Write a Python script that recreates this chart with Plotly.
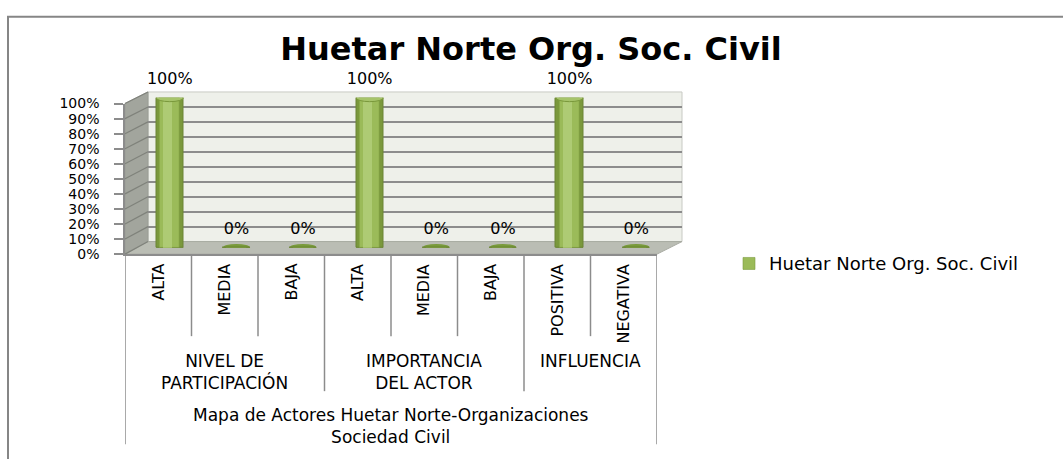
import plotly.graph_objects as go

# ---------------- data ----------------
categories = ["ALTA", "MEDIA", "BAJA", "ALTA", "MEDIA", "BAJA", "POSITIVA", "NEGATIVA"]
groups = ["NIVEL DE<br>PARTICIPACIÓN", "IMPORTANCIA<br>DEL ACTOR", "INFLUENCIA"]
group_sizes = [3, 3, 2]
outer_label = "Mapa de Actores Huetar Norte-Organizaciones<br>Sociedad Civil"
values = [1.0, 0.0, 0.0, 1.0, 0.0, 0.0, 1.0, 0.0]
series_name = "Huetar Norte Org. Soc. Civil"
chart_title = "Huetar Norte Org. Soc. Civil"
y_ticks = [0.0, 0.1, 0.2, 0.3, 0.4, 0.5, 0.6, 0.7, 0.8, 0.9, 1.0]

# ---------------- geometry helpers (pixel -> paper) ----------------
W, H = 1063, 459


def px(x):
    return x / W


def py(y):
    return 1 - y / H


FONT = "DejaVu Sans"
GRID = "#8C8C8C"
n = len(categories)
idx = list(range(n))
xr = [-0.5, n - 0.5]

# planes of the 3-D box: (left, right, y at 0, y at 1)
FRONT = (125, 657, 255, 99)
BACK = (148, 682, 242, 87)
MID = tuple((a + b) / 2 for a, b in zip(FRONT, BACK))


def yplane(p, t):
    return p[2] + (p[3] - p[2]) * t


fig = go.Figure()

# invisible anchor trace for back wall (grid)
fig.add_trace(go.Scatter(x=[0], y=[0], xaxis="x", yaxis="y", mode="markers",
                         marker=dict(opacity=0), showlegend=False, hoverinfo="skip"))

# cylinders built from several overlaid bars (shading)
bw = 0.41
fig.add_trace(go.Bar(x=idx, y=values, xaxis="x2", yaxis="y2", width=bw,
                     marker=dict(color="#7A983C", line=dict(color="#6A8434", width=1)),
                     showlegend=False, hoverinfo="skip"))
fig.add_trace(go.Bar(x=idx, y=values, xaxis="x2", yaxis="y2", width=0.30,
                     name=series_name,
                     marker=dict(color="#9BBB59", line=dict(color="#7E9C3F", width=0.6)),
                     hoverinfo="skip"))
fig.add_trace(go.Bar(x=idx, y=values, xaxis="x2", yaxis="y2", width=0.14, offset=-0.11,
                     marker=dict(color="#AECB74", line=dict(width=0)),
                     showlegend=False, hoverinfo="skip"))

# data labels
fig.add_trace(go.Scatter(x=idx, y=values, xaxis="x2", yaxis="y2", mode="markers+text",
                         text=[f"{v:.0%}" for v in values], textposition="top center",
                         textfont=dict(family=FONT, size=16, color="black"),
                         marker=dict(size=14, color="rgba(0,0,0,0)"),
                         cliponaxis=False, showlegend=False, hoverinfo="skip"))

# invisible anchor trace for the front plane (value axis labels)
fig.add_trace(go.Scatter(x=[0], y=[0], xaxis="x3", yaxis="y3", mode="markers",
                         marker=dict(opacity=0), showlegend=False, hoverinfo="skip"))

shapes = []
# chart border (cropped on right and bottom)
shapes.append(dict(type="rect", xref="paper", yref="paper", x0=px(8), x1=1.05,
                   y0=-0.05, y1=py(9), line=dict(color="#868686", width=2),
                   fillcolor="rgba(0,0,0,0)", layer="below"))
# back wall
shapes.append(dict(type="rect", xref="paper", yref="paper", x0=px(BACK[0]), x1=px(BACK[1]),
                   y0=py(BACK[2]), y1=py(BACK[3]), fillcolor="#EEF0EA",
                   line=dict(color="#C8CAC4", width=1), layer="below"))
# side wall
shapes.append(dict(type="path", xref="paper", yref="paper",
                   path=f"M{px(FRONT[0])},{py(FRONT[3])} L{px(BACK[0])},{py(BACK[3])} "
                        f"L{px(BACK[0])},{py(BACK[2])} L{px(FRONT[0])},{py(FRONT[2])} Z",
                   fillcolor="#A2A59D", line=dict(color="#9A9D95", width=1), layer="below"))
# floor
shapes.append(dict(type="path", xref="paper", yref="paper",
                   path=f"M{px(FRONT[0])},{py(FRONT[2])} L{px(FRONT[1])},{py(FRONT[2])} "
                        f"L{px(BACK[1])},{py(BACK[2])} L{px(BACK[0])},{py(BACK[2])} Z",
                   fillcolor="#BABDB4", line=dict(color="#A8ABA2", width=1), layer="below"))
# side wall grid lines
for t in y_ticks:
    shapes.append(dict(type="line", xref="paper", yref="paper",
                       x0=px(FRONT[0]), y0=py(yplane(FRONT, t)),
                       x1=px(BACK[0]), y1=py(yplane(BACK, t)),
                       line=dict(color="#7F827B", width=1.2), layer="below"))

# cylinder bottoms / zero discs and tops
eh = 0.026
for i, v in zip(idx, values):
    shapes.append(dict(type="circle", xref="x2", yref="y2", x0=i - bw / 2, x1=i + bw / 2,
                       y0=-eh, y1=eh, fillcolor="#6E8A36" if v > 0 else "#799A3B",
                       line=dict(width=0), layer="below"))
    if v > 0:
        shapes.append(dict(type="circle", xref="x2", yref="y2", x0=i - bw / 2, x1=i + bw / 2,
                           y0=v - eh, y1=v + eh, fillcolor="#A6C46A",
                           line=dict(color="#7A983C", width=1), layer="above"))

# category axis dividers
bounds = []
acc = 0
for s in group_sizes[:-1]:
    acc += s
    bounds.append(acc - 0.5)
for k in range(n + 1):
    b = k - 0.5
    if k == 0 or k == n:
        yb = 452
    elif b in bounds:
        yb = 397
    else:
        yb = 340
    shapes.append(dict(type="line", xref="x3", yref="paper", x0=b, x1=b,
                       y0=py(FRONT[2]), y1=py(yb), line=dict(color=GRID, width=1.5)))

annotations = []
for i, c in zip(idx, categories):
    annotations.append(dict(x=i, xref="x3", y=py(263), yref="paper", text=c, textangle=-90,
                            showarrow=False, xanchor="center", yanchor="top",
                            font=dict(family=FONT, size=16, color="black")))
start = 0
for g, s in zip(groups, group_sizes):
    annotations.append(dict(x=start + s / 2 - 0.5, xref="x3", y=py(353), yref="paper", text=g,
                            showarrow=False, xanchor="center", yanchor="top", align="center",
                            font=dict(family=FONT, size=17, color="black")))
    start += s
annotations.append(dict(x=(n - 1) / 2, xref="x3", y=py(409), yref="paper", text=outer_label,
                        showarrow=False, xanchor="center", yanchor="top", align="center",
                        font=dict(family=FONT, size=17, color="black")))

fig.update_layout(
    width=W, height=H,
    margin=dict(l=0, r=0, t=0, b=0),
    paper_bgcolor="white", plot_bgcolor="rgba(0,0,0,0)",
    barmode="overlay", bargap=0,
    title=dict(text=chart_title, x=px(531), y=py(42), xref="paper", yref="paper",
               xanchor="center", yanchor="middle",
               font=dict(family=FONT, size=32, color="black", weight="bold")),
    showlegend=True,
    legend=dict(x=px(729), y=py(265), xanchor="left", yanchor="middle",
                font=dict(family=FONT, size=18, color="black"), bgcolor="rgba(0,0,0,0)"),
    xaxis=dict(domain=[px(BACK[0]), px(BACK[1])], range=xr, visible=False, anchor="y"),
    yaxis=dict(domain=[py(BACK[2]), py(BACK[3])], range=[0, 1], anchor="x",
               tickvals=y_ticks, showgrid=True, gridcolor=GRID, gridwidth=1.5,
               showticklabels=False, zeroline=False, ticks="", showline=False),
    xaxis2=dict(domain=[px(MID[0]), px(MID[1])], range=xr, visible=False, anchor="y2"),
    yaxis2=dict(domain=[py(MID[2]), py(MID[3])], range=[0, 1], visible=False, anchor="x2"),
    xaxis3=dict(domain=[px(FRONT[0]), px(FRONT[1])], range=xr, anchor="y3",
                showline=True, linecolor=GRID, linewidth=1.5, showticklabels=False,
                ticks="", showgrid=False, zeroline=False),
    yaxis3=dict(domain=[py(FRONT[2]), py(FRONT[3])], range=[0, 1], anchor="x3",
                tickvals=y_ticks, tickformat=".0%", ticks="outside", ticklen=9,
                tickcolor=GRID, tickwidth=1.5, showline=True, linecolor=GRID, linewidth=1.5,
                showgrid=False, zeroline=False, ticklabelstandoff=12,
                tickfont=dict(family=FONT, size=14, color="black")),
    shapes=shapes,
    annotations=annotations,
    hovermode=False,
)

fig.write_html("out.html", config={"displayModeBar": False},
               post_script="document.body.style.margin='0';document.body.style.overflow='hidden';")
